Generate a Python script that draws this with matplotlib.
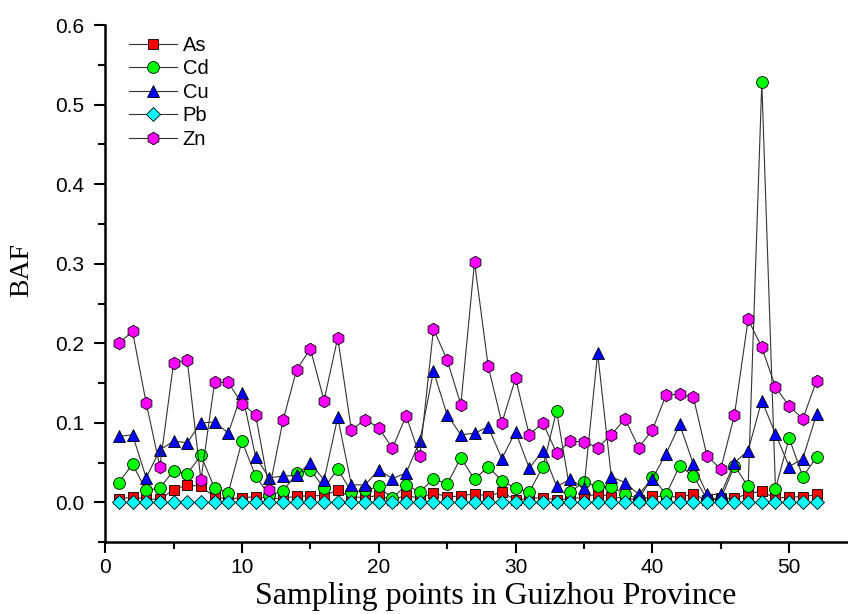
import matplotlib
matplotlib.use("Agg")
import matplotlib.pyplot as plt
from matplotlib.ticker import MultipleLocator

points = list(range(1, 53))

as_baf = [0.004, 0.007, 0.004, 0.004, 0.016, 0.022, 0.020, 0.007, 0.004, 0.006,
          0.007, 0.005, 0.005, 0.008, 0.008, 0.009, 0.015, 0.007, 0.006, 0.009,
          0.003, 0.009, 0.005, 0.012, 0.007, 0.008, 0.011, 0.008, 0.013, 0.003,
          0.005, 0.006, 0.003, 0.005, 0.006, 0.011, 0.007, 0.005, 0.003, 0.008,
          0.007, 0.007, 0.010, 0.003, 0.005, 0.005, 0.011, 0.014, 0.005, 0.007,
          0.007, 0.010]
cd_baf = [0.025, 0.048, 0.015, 0.018, 0.040, 0.036, 0.059, 0.018, 0.012, 0.077,
          0.033, 0.009, 0.014, 0.037, 0.041, 0.018, 0.042, 0.013, 0.015, 0.020,
          0.005, 0.022, 0.013, 0.030, 0.023, 0.056, 0.029, 0.045, 0.027, 0.018,
          0.013, 0.045, 0.115, 0.013, 0.026, 0.020, 0.019, 0.011, 0.004, 0.032,
          0.010, 0.046, 0.033, 0.004, 0.004, 0.046, 0.020, 0.528, 0.017, 0.081,
          0.032, 0.057]
cu_baf = [0.083, 0.085, 0.031, 0.066, 0.077, 0.075, 0.100, 0.101, 0.087, 0.138,
          0.057, 0.031, 0.033, 0.034, 0.050, 0.028, 0.107, 0.022, 0.022, 0.041,
          0.030, 0.037, 0.077, 0.165, 0.110, 0.085, 0.087, 0.095, 0.055, 0.089,
          0.043, 0.065, 0.020, 0.029, 0.018, 0.188, 0.032, 0.025, 0.010, 0.030,
          0.061, 0.098, 0.048, 0.010, 0.010, 0.050, 0.065, 0.128, 0.086, 0.045,
          0.055, 0.111]
pb_baf = [0.001, 0.001, 0.001, 0.001, 0.001, 0.001, 0.001, 0.001, 0.001, 0.001,
          0.001, 0.001, 0.001, 0.001, 0.001, 0.001, 0.001, 0.001, 0.001, 0.001,
          0.001, 0.001, 0.001, 0.001, 0.001, 0.001, 0.001, 0.001, 0.001, 0.001,
          0.001, 0.001, 0.001, 0.001, 0.001, 0.001, 0.001, 0.001, 0.001, 0.001,
          0.001, 0.001, 0.001, 0.001, 0.001, 0.001, 0.001, 0.001, 0.001, 0.001,
          0.001, 0.001]
zn_baf = [0.200, 0.215, 0.125, 0.045, 0.175, 0.179, 0.028, 0.151, 0.151, 0.124,
          0.110, 0.016, 0.103, 0.167, 0.193, 0.128, 0.207, 0.091, 0.104, 0.094,
          0.068, 0.109, 0.058, 0.218, 0.179, 0.123, 0.302, 0.171, 0.100, 0.156,
          0.085, 0.100, 0.062, 0.077, 0.076, 0.069, 0.085, 0.105, 0.069, 0.091,
          0.135, 0.136, 0.132, 0.058, 0.042, 0.110, 0.230, 0.195, 0.145, 0.121,
          0.105, 0.153]

series = [
    ("As", as_baf, "s", "#FF0000", 7.5),
    ("Cd", cd_baf, "o", "#00FF00", 8.5),
    ("Cu", cu_baf, "^", "#0000FF", 9),
    ("Pb", pb_baf, "D", "#00FFFF", 7.5),
    ("Zn", zn_baf, "h", "#FF00FF", 9),
]

plt.rcParams['font.family'] = ['Liberation Sans', 'DejaVu Sans']

fig = plt.figure(figsize=(8.48, 6.14), dpi=100)
ax = fig.add_axes([0.124, 0.117, 0.876, 0.842])

for name, vals, mk, col, ms in series:
    ax.plot(points, vals, color='#333333', linewidth=0.8, marker=mk,
            markersize=ms, markerfacecolor=col, markeredgecolor='black',
            markeredgewidth=0.6, label=name)

ax.set_xlim(0, 54.3)
ax.set_ylim(-0.05, 0.6)
ax.xaxis.set_major_locator(MultipleLocator(10))
ax.xaxis.set_minor_locator(MultipleLocator(5))
ax.yaxis.set_major_locator(MultipleLocator(0.1))
ax.yaxis.set_minor_locator(MultipleLocator(0.05))
ax.yaxis.set_major_formatter(plt.FormatStrFormatter('%.1f'))

ax.spines['top'].set_visible(False)
ax.spines['right'].set_visible(False)
ax.spines['left'].set_linewidth(1.8)
ax.spines['bottom'].set_linewidth(1.8)
ax.tick_params(which='major', direction='out', length=8, width=1.5, labelsize=15)
ax.tick_params(axis='y', which='major', pad=7)
ax.tick_params(which='minor', direction='out', length=5, width=1.5)

ax.set_xlabel('Sampling points in Guizhou Province', family='Liberation Serif', fontsize=23)
ax.xaxis.set_label_coords(0.526, -0.078)
ax.set_ylabel('BAF', family='Liberation Serif', fontsize=20)
ax.yaxis.set_label_coords(-0.095, 0.526)

ax.legend(loc='upper left', bbox_to_anchor=(0.008, 1.014), frameon=False, fontsize=14.5,
          handlelength=2.35, labelspacing=0.22, handletextpad=0.3)

fig.savefig('out.png', dpi=100)
